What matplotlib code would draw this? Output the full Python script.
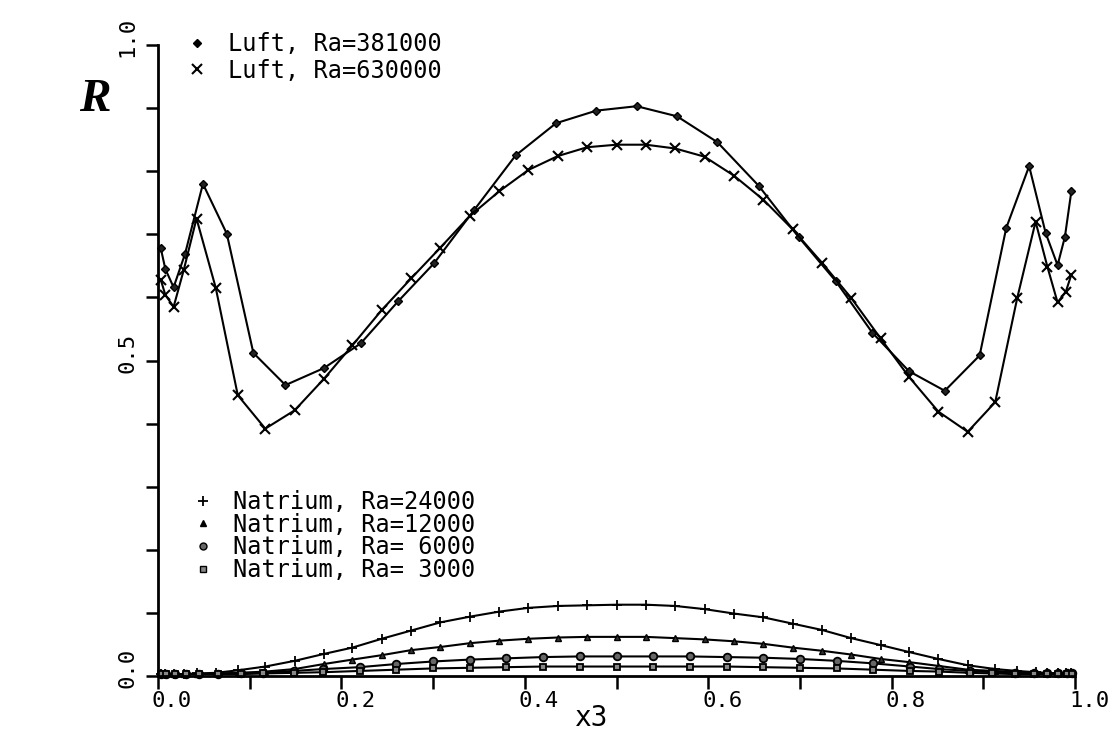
import matplotlib
matplotlib.use("Agg")
import matplotlib.pyplot as plt
import matplotlib.transforms as mtransforms
from matplotlib.lines import Line2D

# ---------------- data ----------------
x_luft_381000 = [0.003, 0.008, 0.017, 0.0295, 0.049, 0.075, 0.104, 0.139, 0.181, 0.221,
                 0.262, 0.301, 0.345, 0.390, 0.434, 0.478, 0.522, 0.566, 0.610, 0.655,
                 0.699, 0.739, 0.779, 0.819, 0.858, 0.896, 0.925, 0.950, 0.968, 0.981,
                 0.989, 0.996]
r_luft_381000 = [0.678, 0.645, 0.616, 0.669, 0.780, 0.701, 0.512, 0.461, 0.488, 0.527,
                 0.594, 0.654, 0.739, 0.825, 0.876, 0.896, 0.903, 0.887, 0.846, 0.777,
                 0.695, 0.626, 0.544, 0.483, 0.452, 0.508, 0.710, 0.808, 0.702, 0.651,
                 0.696, 0.768]

x_luft_630000 = [0.003, 0.008, 0.017, 0.028, 0.042, 0.063, 0.087, 0.117, 0.149, 0.181,
                 0.212, 0.244, 0.276, 0.308, 0.340, 0.372, 0.404, 0.436, 0.468, 0.500,
                 0.532, 0.564, 0.596, 0.628, 0.660, 0.692, 0.724, 0.756, 0.788, 0.819,
                 0.851, 0.883, 0.913, 0.937, 0.957, 0.970, 0.981, 0.990, 0.996]
r_luft_630000 = [0.628, 0.604, 0.585, 0.643, 0.725, 0.615, 0.445, 0.392, 0.421, 0.471,
                 0.524, 0.580, 0.630, 0.679, 0.729, 0.768, 0.802, 0.824, 0.838, 0.842,
                 0.842, 0.836, 0.823, 0.793, 0.755, 0.708, 0.655, 0.599, 0.535, 0.474,
                 0.419, 0.387, 0.434, 0.599, 0.720, 0.648, 0.592, 0.609, 0.636]

x_na_fine = x_luft_630000
r_na_24000 = [0.003, 0.003, 0.003, 0.003, 0.004, 0.005, 0.009, 0.015, 0.024, 0.035,
              0.045, 0.059, 0.072, 0.085, 0.094, 0.102, 0.108, 0.111, 0.112, 0.113,
              0.113, 0.111, 0.106, 0.099, 0.093, 0.083, 0.073, 0.060, 0.049, 0.038,
              0.027, 0.017, 0.011, 0.008, 0.006, 0.005, 0.004, 0.004, 0.004]
r_na_12000 = [0.003, 0.003, 0.003, 0.003, 0.003, 0.004, 0.005, 0.007, 0.011, 0.019,
              0.026, 0.033, 0.041, 0.046, 0.052, 0.056, 0.059, 0.061, 0.062, 0.062,
              0.062, 0.060, 0.058, 0.055, 0.051, 0.045, 0.040, 0.034, 0.027, 0.022,
              0.016, 0.010, 0.008, 0.006, 0.005, 0.004, 0.004, 0.004, 0.004]

x_na_coarse = [0.003, 0.009, 0.018, 0.030, 0.045, 0.065, 0.090, 0.115, 0.148, 0.180,
               0.220, 0.260, 0.300, 0.340, 0.380, 0.420, 0.460, 0.500, 0.540, 0.580,
               0.620, 0.660, 0.700, 0.740, 0.780, 0.820, 0.852, 0.885, 0.910, 0.935,
               0.955, 0.970, 0.982, 0.991, 0.997]
r_na_6000 = [0.003, 0.003, 0.003, 0.003, 0.003, 0.003, 0.004, 0.005, 0.008, 0.011,
             0.014, 0.019, 0.023, 0.026, 0.028, 0.030, 0.031, 0.031, 0.031, 0.031,
             0.030, 0.029, 0.027, 0.024, 0.020, 0.015, 0.011, 0.008, 0.006, 0.005,
             0.004, 0.004, 0.004, 0.004, 0.004]
r_na_3000 = [0.003, 0.003, 0.003, 0.003, 0.003, 0.003, 0.003, 0.004, 0.005, 0.006,
             0.008, 0.010, 0.012, 0.013, 0.014, 0.015, 0.015, 0.015, 0.015, 0.015,
             0.015, 0.014, 0.013, 0.012, 0.010, 0.008, 0.007, 0.005, 0.004, 0.003,
             0.003, 0.003, 0.003, 0.003, 0.003]

labels_luft = ["Luft, Ra=381000", "Luft, Ra=630000"]
labels_na = ["Natrium, Ra=24000", "Natrium, Ra=12000",
             "Natrium, Ra= 6000", "Natrium, Ra= 3000"]

x_ticks_major = [0.0, 0.2, 0.4, 0.6, 0.8, 1.0]
x_ticklabels = ["0.0", "0.2", "0.4", "0.6", "0.8", "1.0"]
x_ticks_minor = [0.1, 0.3, 0.5, 0.7, 0.9]
y_ticks_major = [0.0, 0.5, 1.0]
y_ticklabels = ["0.0", "0.5", "1.0"]
y_ticks_minor = [0.1, 0.2, 0.3, 0.4, 0.6, 0.7, 0.8, 0.9]

# ---------------- figure ----------------
MONO = "DejaVu Sans Mono"
fig = plt.figure(figsize=(11.14, 7.35), dpi=100)
ax = fig.add_axes([158 / 1114, 1 - 676 / 735, (1075 - 158) / 1114, (676 - 45) / 735])

lw = 1.5
ax.plot(x_luft_381000, r_luft_381000, color="black", lw=lw, marker="D", ms=4.5,
        mfc="#222222", mec="black", clip_on=False)
ax.plot(x_luft_630000, r_luft_630000, color="black", lw=lw, marker="x", ms=6.5,
        mew=1.5, clip_on=False)
ax.plot(x_na_fine, r_na_24000, color="black", lw=lw, marker="+", ms=6.5, mew=1.3,
        clip_on=False)
ax.plot(x_na_fine, r_na_12000, color="black", lw=lw, marker="^", ms=5,
        mfc="#333333", mec="black", clip_on=False)
ax.plot(x_na_coarse, r_na_6000, color="black", lw=lw, marker="o", ms=5.5,
        mfc="#666666", mec="black", mew=1.3, clip_on=False)
ax.plot(x_na_coarse, r_na_3000, color="black", lw=lw, marker="s", ms=5,
        mfc="#888888", mec="black", mew=1.3, clip_on=False)

ax.set_xlim(0, 1)
ax.set_ylim(0, 1)
for s in ["top", "right"]:
    ax.spines[s].set_visible(False)
for s in ["left", "bottom"]:
    ax.spines[s].set_linewidth(2)

ax.set_xticks(x_ticks_major)
ax.set_xticklabels(x_ticklabels, family=MONO, fontsize=16)
ax.set_xticks(x_ticks_minor, minor=True)
ax.set_yticks(y_ticks_major)
ax.set_yticklabels(y_ticklabels, family=MONO, fontsize=16, rotation=90, va="center")
ax.set_yticks(y_ticks_minor, minor=True)
ax.tick_params(axis="both", which="both", direction="out", length=9, width=1.8)
ax.tick_params(axis="x", which="both", pad=2)
ax.tick_params(axis="y", which="both", pad=6)

# shift labels like the plotter output
off_x = mtransforms.ScaledTranslation(14 / 100, 0, fig.dpi_scale_trans)
for lab in ax.get_xticklabels():
    lab.set_transform(lab.get_transform() + off_x)
off_y = mtransforms.ScaledTranslation(0, 8 / 100, fig.dpi_scale_trans)
for lab in ax.get_yticklabels():
    lab.set_transform(lab.get_transform() + off_y)

# legends
h_luft = [Line2D([], [], ls="none", marker="D", ms=4.5, color="black"),
          Line2D([], [], ls="none", marker="x", ms=6.5, mew=1.5, color="black")]
leg1 = ax.legend(h_luft, labels_luft, loc="upper left", bbox_to_anchor=(0.022, 1.035),
                 frameon=False, prop={"family": MONO, "size": 17}, handlelength=0.8,
                 handletextpad=0.9, labelspacing=0.1, borderaxespad=0)
ax.add_artist(leg1)
h_na = [Line2D([], [], ls="none", marker="+", ms=6.5, mew=1.3, color="black"),
        Line2D([], [], ls="none", marker="^", ms=5, color="black"),
        Line2D([], [], ls="none", marker="o", ms=5, mfc="#666666", mec="black"),
        Line2D([], [], ls="none", marker="s", ms=5, mfc="#888888", mec="black")]
ax.legend(h_na, labels_na, loc="upper left", bbox_to_anchor=(0.028, 0.31),
          frameon=False, prop={"family": MONO, "size": 17}, handlelength=0.8,
          handletextpad=0.9, labelspacing=-0.05, borderaxespad=0)

fig.text(592 / 1114, 1 - 718 / 735, "x3", family=MONO, fontsize=20,
         ha="center", va="center")
fig.text(95 / 1114, 1 - 100 / 735, "R", family="Liberation Serif", fontsize=34,
         fontweight="bold", style="italic", ha="center", va="center")

fig.savefig("out.png", dpi=100)
